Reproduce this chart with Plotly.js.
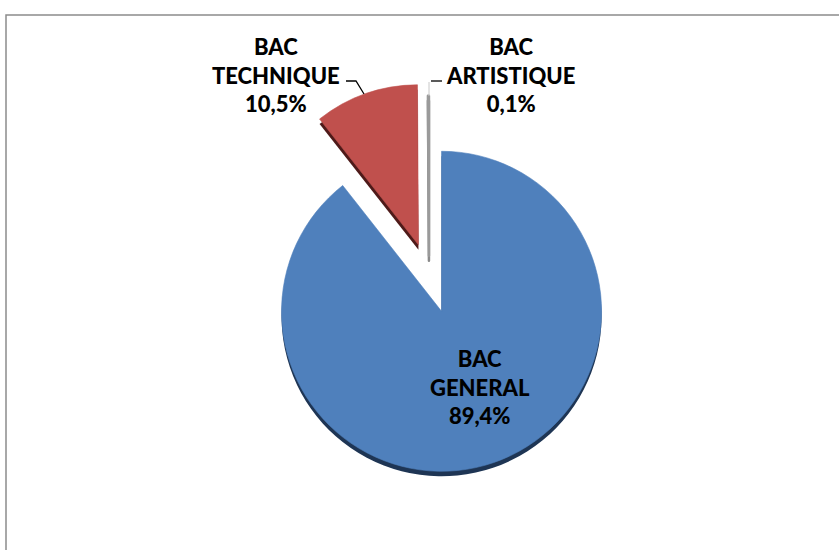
<!DOCTYPE html>
<html>
<head>
<meta charset="utf-8">
<script src="https://cdn.plot.ly/plotly-3.0.1.min.js"></script>
<style>html,body{margin:0;padding:0;background:#fff}#chart{width:839px;height:550px}</style>
</head>
<body>
<div id="chart"></div>
<script>
// ---- data ----
const categories = ['BAC GENERAL', 'BAC TECHNIQUE', 'BAC ARTISTIQUE'];
const shares = [89.4, 10.5, 0.1];

// ---- styles ----
const W = 839, H = 550;
const fillColors = ['#4f80bc', '#c0504d', '#d4d4d4'];
const rimColors = ['#1e3554', '#4e1a19', '#8a8a8a'];
const pulls = [0.24, 0.2, 0.12];
const labelPos = [[480, 387], [276, 75], [510, 75]];
const px = x => x / W;
const py = y => 1 - y / H;

// pie domain (centre 429,275; radius ~160)
const cx = 429, cy = 275, half = 198.4;
const dom = (dy) => ({
  x: [px(cx - half), px(cx + half)],
  y: [py(cy + dy + half), py(cy + dy - half)]
});

const base = {
  type: 'pie', labels: categories, values: shares, sort: false,
  direction: 'clockwise', rotation: 0, pull: pulls,
  textinfo: 'none', hoverinfo: 'skip', showlegend: false
};

const shadow = Object.assign({}, base, {
  domain: dom(5),
  marker: {colors: rimColors, line: {width: [0, 0, 2.5], color: ['rgba(0,0,0,0)', 'rgba(0,0,0,0)', '#8a8a8a']}}
});
const main = Object.assign({}, base, {
  domain: dom(0),
  marker: {colors: fillColors, line: {width: [0.6, 0.6, 2.5], color: ['#4f80bc', '#c0504d', '#9a9a9a']}}
});

const fmt = v => v.toFixed(1).replace('.', ',') + '%';
const annotations = categories.map((c, i) => ({
  xref: 'paper', yref: 'paper',
  x: px(labelPos[i][0]), y: py(labelPos[i][1]),
  xanchor: 'center', yanchor: 'middle', showarrow: false,
  text: c.replace(' ', '<br>') + '<br>' + fmt(shares[i]),
  font: {family: 'Lato, "Open Sans", sans-serif', size: 22, color: '#000', weight: 900},
  align: 'center'
}));

const pathPx = pts => pts.map((p, i) => (i ? 'L' : 'M') + px(p[0]) + ',' + py(p[1])).join(' ');
const shapes = [
  {type: 'rect', xref: 'paper', yref: 'paper', x0: px(6), x1: 1.01, y0: -0.01, y1: py(15),
   line: {color: '#8c8c8c', width: 1.5}, fillcolor: 'rgba(0,0,0,0)'},
  {type: 'path', xref: 'paper', yref: 'paper', path: pathPx([[346, 81], [356, 81], [364, 94]]),
   line: {color: '#000', width: 1.3}},
  {type: 'path', xref: 'paper', yref: 'paper', path: pathPx([[431, 81], [442, 81]]),
   line: {color: '#000', width: 1.3}},
  {type: 'path', xref: 'paper', yref: 'paper', path: pathPx([[429, 82], [429, 96]]),
   line: {color: '#c8c8c8', width: 1}}
];

Plotly.newPlot('chart', [shadow, main], {
  width: W, height: H,
  margin: {l: 0, r: 0, t: 0, b: 0},
  paper_bgcolor: '#fff', plot_bgcolor: '#fff',
  annotations: annotations, shapes: shapes
}, {staticPlot: true});
</script>
</body>
</html>
